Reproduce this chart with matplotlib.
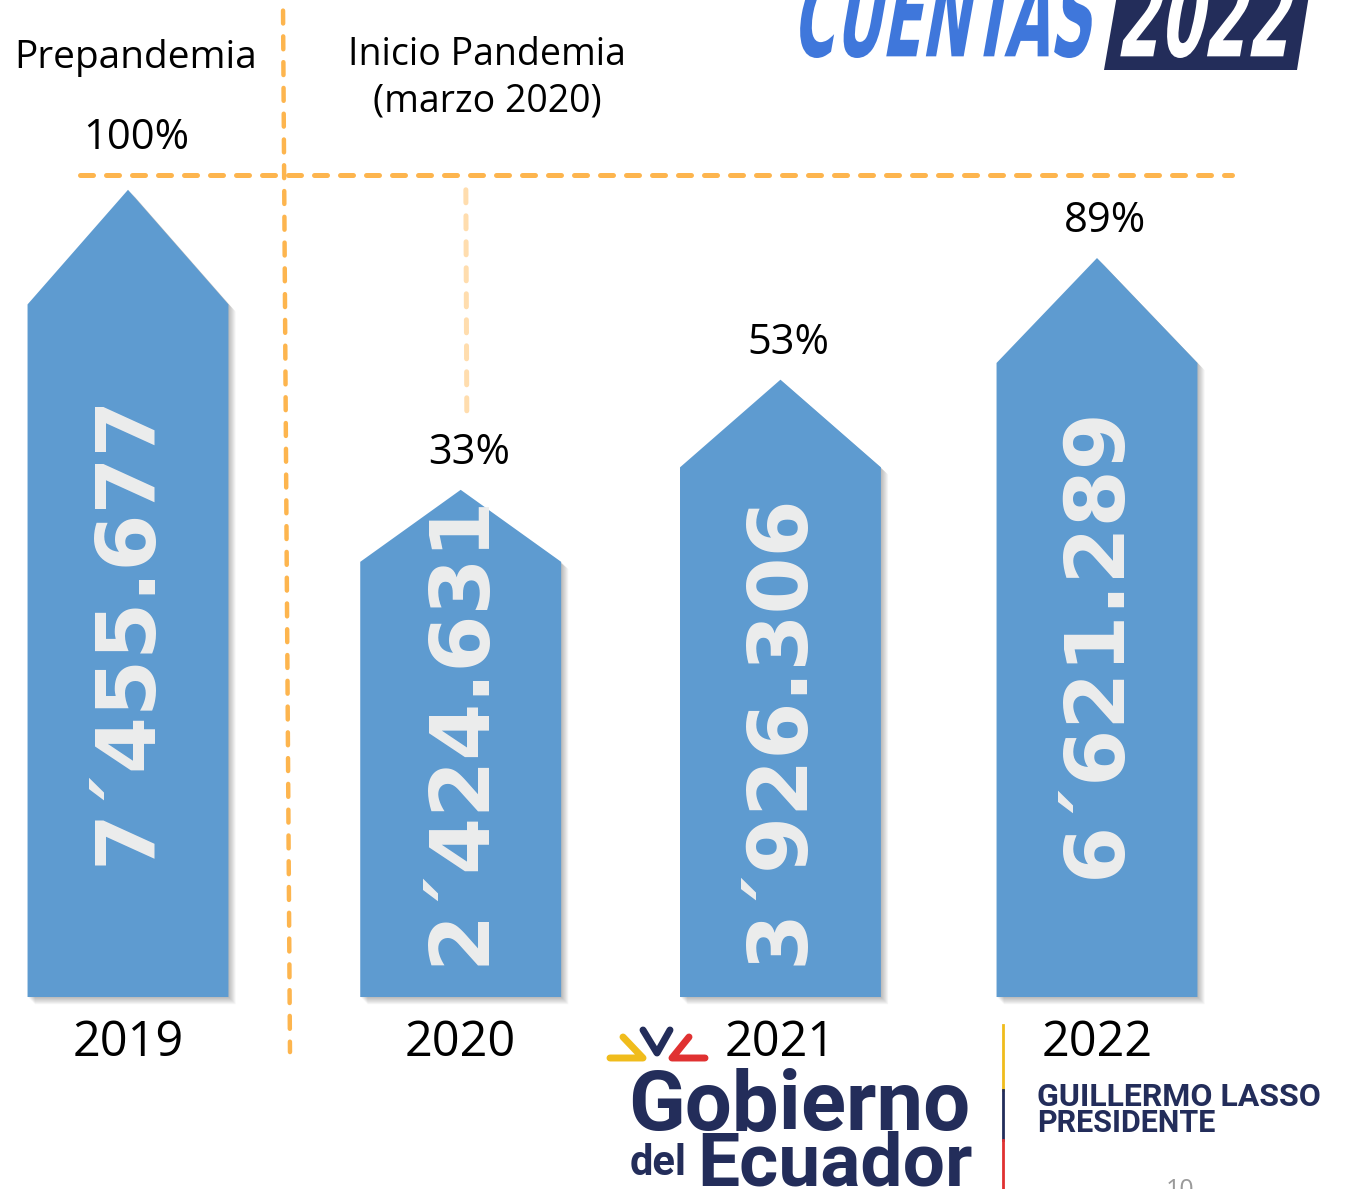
import matplotlib.pyplot as plt
import numpy as np
from matplotlib.font_manager import FontProperties
from matplotlib.patches import Polygon, PathPatch
from matplotlib.textpath import TextPath
from matplotlib.transforms import Affine2D, offset_copy

# data
years = ["2019", "2020", "2021", "2022"]
values = [7455677, 2424631, 3926306, 6621289]
arrow_height = [98.2, 61.7, 75.1, 89.9]   # drawn height, % of the reference line

# layout
slot = [0, 1.03, 2.02, 3]
label_bottom = [16, 3.9, 3.9, 14.5]
half_w = 0.311
tip = 0.142

BLUE = "#5E9BD0"
ORANGE = "#FDB54E"
NAVY = "#232D5A"
TXT = "Open Sans"

PX, PY = 323.0, 8.22
fig = plt.figure(figsize=(13.45, 11.89), dpi=100)
ax = fig.add_axes([0, 0, 1, 1])
ax.axis("off")
ax.set_xlim(-128 / PX, (1345 - 128) / PX)
ax.set_ylim(-(1189 - 997) / PY, 997 / PY)

deco = fig.add_axes([0, 0, 1, 1])
deco.axis("off")
deco.set_xlim(0, 1345)
deco.set_ylim(1189, 0)

# reference lines
ax.plot([-0.149, 3.418], [100, 100], color=ORANGE, lw=3.6,
        ls=(0, (2.6, 2.6)), dash_capstyle="round", zorder=1)
ax.plot([0.48, 0.5015], [120, -6.7], color=ORANGE, lw=3.2,
        ls=(0, (2.9, 2.9)), dash_capstyle="round", zorder=1)
ax.plot([1.046, 1.049], [98.2, 70.4], color="#FFDDAE", lw=3.6,
        ls=(0, (2.6, 2.6)), dash_capstyle="round", zorder=1)

for i, (v, h) in enumerate(zip(values, arrow_height)):
    x = slot[i]
    pts = [(x - half_w, 0), (x + half_w, 0), (x + half_w, h * (1 - tip)),
           (x, h), (x - half_w, h * (1 - tip))]
    for k in range(1, 9):
        tr = offset_copy(ax.transData, fig=fig, x=k * 0.9, y=-k * 0.9, units="dots")
        ax.add_patch(Polygon(pts, closed=True, facecolor="black", alpha=0.035,
                             lw=0, transform=tr, zorder=2))
    ax.add_patch(Polygon(pts, closed=True, facecolor=BLUE, lw=0, zorder=3))

    label = f"{v // 1000000}\u00b4{(v // 1000) % 1000:03d}.{v % 1000:03d}"
    ax.text(x, label_bottom[i], label, rotation=90, rotation_mode="anchor",
            ha="left", va="center", color="#EDEDED", fontsize=59,
            fontweight="bold", family="DejaVu Sans", zorder=4)

    pct = round(100 * v / values[0])
    base = 100 if i == 0 else h
    ax.annotate(f"{pct}%", (x, base), xytext=(8, 37), textcoords="offset pixels",
                ha="center", va="center", fontsize=30, family=TXT, color="black")

    ax.text(x, -5.6, years[i], ha="center", va="center", fontsize=35,
            family=TXT, color="black")

# headings
deco.text(136, 58, "Prepandemia", ha="center", va="center", fontsize=28, family=TXT)
deco.text(487, 78, "Inicio Pandemia\n(marzo 2020)", ha="center", va="center",
          fontsize=27, family=TXT, linespacing=1.3)


def squeezed(text, left, bottom, width, height, color, slant=10):
    # condensed italic word drawn as a path (no narrow font installed)
    tp = TextPath((0, 0), text, size=100,
                  prop=FontProperties(family="DejaVu Sans", weight="bold"))
    bb = tp.get_extents()
    tr = (Affine2D().translate(-bb.x0, -bb.y0)
          .scale(width / bb.width, -height / bb.height)
          .skew_deg(-slant, 0).translate(left, bottom))
    deco.add_patch(PathPatch(tr.transform_path(tp), facecolor=color, lw=0))


# CUENTAS 2022 banner (cut at the top of the slide)
squeezed("CUENTAS", 794, 58, 292, 88, "#3F77DB")
deco.add_patch(Polygon([(1104, 70), (1117, -5), (1309, -5), (1297, 70)],
                       closed=True, facecolor=NAVY, lw=0))
squeezed("2022", 1120, 58, 163, 88, "white")

# Gobierno del Ecuador logo
deco.plot([623, 643, 610], [1037, 1058, 1058], color="#F0BC1C", lw=5,
          solid_capstyle="round", solid_joinstyle="round")
deco.plot([643, 657, 670], [1030, 1053, 1030], color=NAVY, lw=5,
          solid_capstyle="round", solid_joinstyle="round")
deco.plot([689, 672, 705], [1037, 1058, 1058], color="#E03131", lw=5,
          solid_capstyle="round", solid_joinstyle="round")
deco.text(628, 1130, "Gobierno", ha="left", va="baseline", fontsize=60,
          fontweight="bold", color=NAVY, family="Roboto")
deco.text(630, 1175, "del", ha="left", va="baseline", fontsize=30,
          fontweight="bold", color=NAVY, family="Roboto")
deco.text(697, 1186, "Ecuador", ha="left", va="baseline", fontsize=54,
          fontweight="bold", color=NAVY, family="Roboto")
deco.plot([1003, 1003], [1025, 1090], color="#F0BC1C", lw=2)
deco.plot([1003, 1003], [1090, 1140], color=NAVY, lw=2)
deco.plot([1003, 1003], [1140, 1189], color="#E03131", lw=2)
deco.text(1037, 1106, "GUILLERMO LASSO", ha="left", va="baseline", fontsize=23,
          fontweight="bold", color=NAVY, family="Roboto")
deco.text(1037, 1132, "PRESIDENTE", ha="left", va="baseline", fontsize=22,
          fontweight="bold", color=NAVY, family="Roboto")
deco.text(1180, 1178, "10", ha="center", va="top", fontsize=18,
          color="#9A9A9A", family=TXT)

fig.savefig("out.png", dpi=100)
